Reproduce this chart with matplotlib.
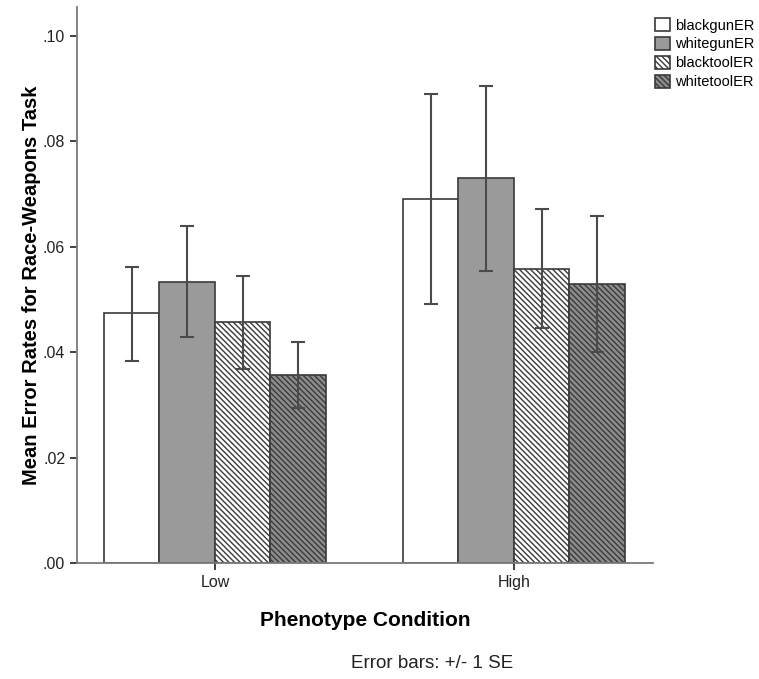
import matplotlib
matplotlib.use("Agg")
import matplotlib.pyplot as plt
import numpy as np

plt.rcParams['font.family'] = ['Liberation Sans', 'DejaVu Sans']
plt.rcParams['hatch.color'] = '#333333'
plt.rcParams['hatch.linewidth'] = 1.0

categories = ["Low", "High"]
series = ["blackgunER", "whitegunER", "blacktoolER", "whitetoolER"]
means = {
    "blackgunER":  [0.0474, 0.0691],
    "whitegunER":  [0.0534, 0.0730],
    "blacktoolER": [0.0458, 0.0558],
    "whitetoolER": [0.0357, 0.0529],
}
err_low = {
    "blackgunER":  [0.0384, 0.0491],
    "whitegunER":  [0.0428, 0.0555],
    "blacktoolER": [0.0369, 0.0445],
    "whitetoolER": [0.0294, 0.0400],
}
err_high = {
    "blackgunER":  [0.0562, 0.0889],
    "whitegunER":  [0.0639, 0.0905],
    "blacktoolER": [0.0545, 0.0672],
    "whitetoolER": [0.0419, 0.0658],
}
yticks = [0.0, 0.02, 0.04, 0.06, 0.08, 0.10]
ytick_labels = [".00", ".02", ".04", ".06", ".08", ".10"]

fills = ["white", "#9a9a9a", "white", "#8c8c8c"]
hatches = [None, None, "\\" * 6, "\\" * 6]

fig = plt.figure(figsize=(7.59, 6.79), dpi=100)
ax = fig.add_axes([77/759, 1-563/679, (653-77)/759, (563-7)/679])

x = np.arange(len(categories))
w = 0.1856
edge = '#3a3a3a'
for i, s in enumerate(series):
    pos = x + (i - 1.5) * w
    ax.bar(pos, means[s], width=w, color=fills[i], edgecolor=edge,
           linewidth=1.2, hatch=hatches[i], label=s, zorder=2)
    m = np.array(means[s])
    lo = m - np.array(err_low[s])
    hi = np.array(err_high[s]) - m
    ax.errorbar(pos, m, yerr=[lo, hi], fmt='none', ecolor='#4a4a4a',
                elinewidth=1.5, capsize=5, capthick=1.5, zorder=3)

ax.set_xlim(-0.4615, 1.465)
ax.set_ylim(0, 0.1055)
ax.set_yticks(yticks)
ax.set_yticklabels(ytick_labels)
ax.set_xticks(x)
ax.set_xticklabels(categories)
for sp in ['top', 'right']:
    ax.spines[sp].set_visible(False)
for sp in ['left', 'bottom']:
    ax.spines[sp].set_color('#7a7a7a')
    ax.spines[sp].set_linewidth(1.3)
ax.tick_params(axis='both', colors='#333333', labelsize=11.5, length=5, width=1.3)
ax.tick_params(axis='both', labelcolor='#222222')

ax.set_ylabel("Mean Error Rates for Race-Weapons Task", fontsize=14.5,
              fontweight='bold', labelpad=1)
ax.set_xlabel("Phenotype Condition", fontsize=15, fontweight='bold', labelpad=15)

fig.text(432/759, 1-663/679, "Error bars: +/- 1 SE", fontsize=13.5,
         ha='center', va='center', color='#222222')

leg = fig.legend(loc='upper left', bbox_to_anchor=(655/759, 1-18/679),
                 frameon=False, fontsize=10.5, handlelength=1.0,
                 handleheight=1.0, handletextpad=0.35, labelspacing=0.3,
                 borderaxespad=0, borderpad=0)

fig.savefig("out.png", dpi=100)
